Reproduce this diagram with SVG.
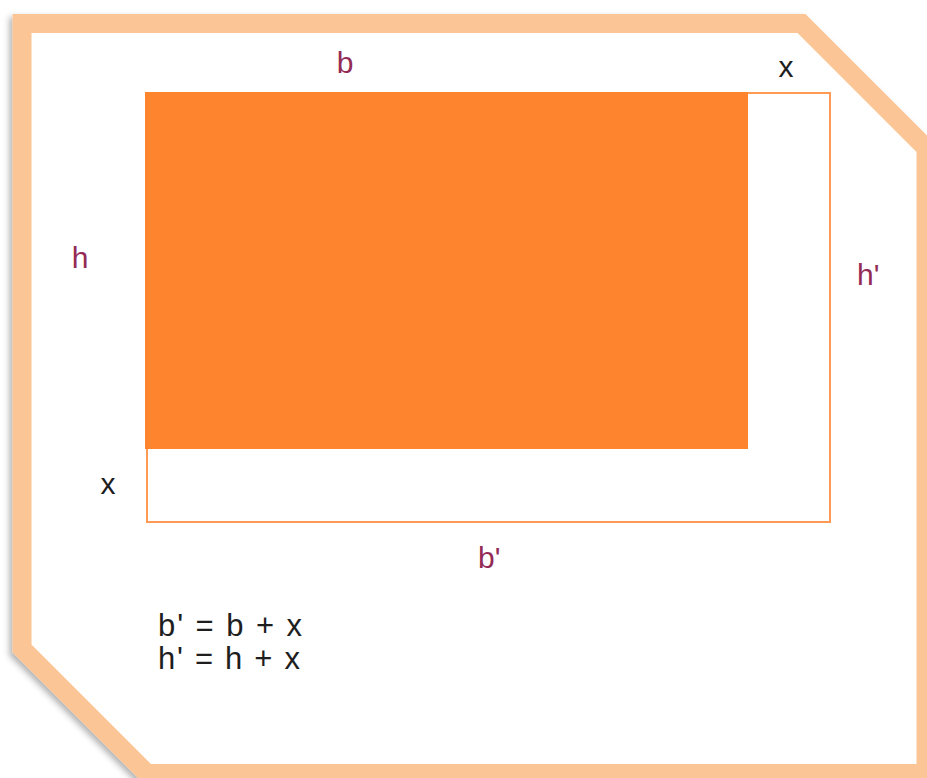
<svg xmlns="http://www.w3.org/2000/svg" width="927" height="778" viewBox="0 0 927 778">
<defs>
<filter id="sh" x="-5%" y="-5%" width="110%" height="110%">
<feDropShadow dx="-3" dy="3" stdDeviation="3" flood-color="#000" flood-opacity="0.3"/>
</filter>
<style>
.lbl{font-family:"Liberation Sans",Arial,sans-serif;font-size:30px;fill:#942B55}
.blk{font-family:"Liberation Sans",Arial,sans-serif;font-size:30px;fill:#1E1E1E}
.frm{font-family:"Liberation Sans",Arial,sans-serif;font-size:31px;fill:#1E1E1E}
</style>
</defs>
<rect width="927" height="778" fill="#ffffff"/>
<g id="frame">
<path d="M22,23.5 H801.5 L926,148 V773.5 H147 L22,648.5 Z" fill="#ffffff" stroke="#FBC596" stroke-width="19" stroke-linejoin="miter" filter="url(#sh)"/>
</g>
<g id="outline">
<rect x="147" y="93" width="683" height="429" fill="none" stroke="#FF9A55" stroke-width="2"/>
</g>
<g id="filled">
<rect x="145" y="92" width="603" height="357" fill="#FE852E"/>
</g>
<g id="labels">
<text class="lbl" x="345" y="73" text-anchor="middle">b</text>
<text class="blk" x="786" y="77" text-anchor="middle">x</text>
<text class="lbl" x="80" y="268" text-anchor="middle">h</text>
<text class="lbl" x="857" y="285">h'</text>
<text class="blk" x="108" y="494" text-anchor="middle">x</text>
<text class="lbl" x="478" y="568">b'</text>
<text class="frm" x="158" y="636" textLength="144" lengthAdjust="spacing">b' = b + x</text>
<text class="frm" x="158" y="669" textLength="142" lengthAdjust="spacing">h' = h + x</text>
</g>
</svg>
